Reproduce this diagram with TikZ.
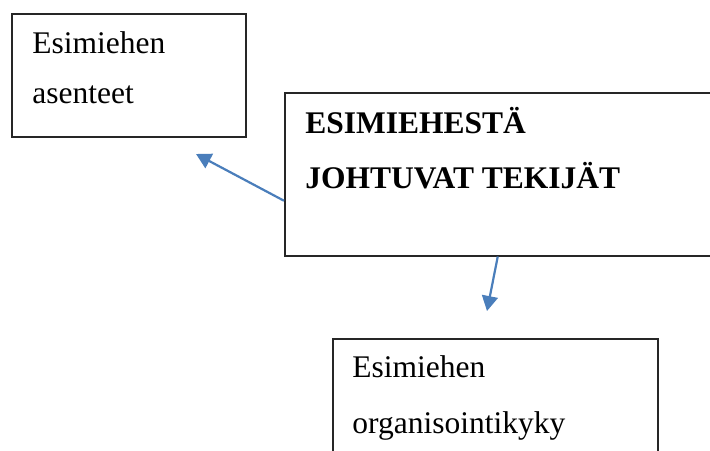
\documentclass[tikz,border=0pt]{standalone}
\usepackage{fontspec}
\setmainfont{Liberation Serif}
\usetikzlibrary{arrows.meta}
\definecolor{arrowblue}{HTML}{4A7EBB}

\begin{document}
\begin{tikzpicture}[x=0.5pt,y=-0.5pt,
	box/.style={draw=black!85, line width=0.75pt, inner sep=0pt, anchor=north west},
	txt/.style={anchor=base west, inner sep=0pt, font=\fontsize{15.75}{19}\selectfont},
	link/.style={draw=arrowblue, line width=1.1pt, -{Triangle[length=7.5pt,width=8pt]}}]
	\useasboundingbox (0,0) rectangle (710,450);
	\clip (0,0) rectangle (710,450);
	% boxes
	\node[box, minimum width=117pt, minimum height=61.5pt] (asenteet) at (11,13) {};
	\node[box, minimum width=228pt, minimum height=81.5pt] (tekijat) at (284,92) {};
	\node[box, minimum width=162.5pt, minimum height=71pt] (kyky) at (332,338) {};
	% texts
	\node[txt] (asenteet1) at (32,53) {Esimiehen};
	\node[txt] (asenteet2) at (32,103) {asenteet};
	\node[txt, font=\fontsize{15.75}{19}\selectfont\bfseries] (tekijat1) at (305,133) {ESIMIEHESTÄ};
	\node[txt, font=\fontsize{15.75}{19}\selectfont\bfseries] (tekijat2) at (305,188) {JOHTUVAT TEKIJÄT};
	\node[txt] (kyky1) at (352,377) {Esimiehen};
	\node[txt] (kyky2) at (352,433) {organisointikyky};
	% arrows
	\coordinate (tip1) at (196,154);
	\coordinate (tip2) at (487,311);
	\draw[link] ([yshift=-13.25pt]tekijat.west) -- (tip1);
	\draw[link] ([xshift=-7.5pt]tekijat.south) -- (tip2);
\end{tikzpicture}
\end{document}
